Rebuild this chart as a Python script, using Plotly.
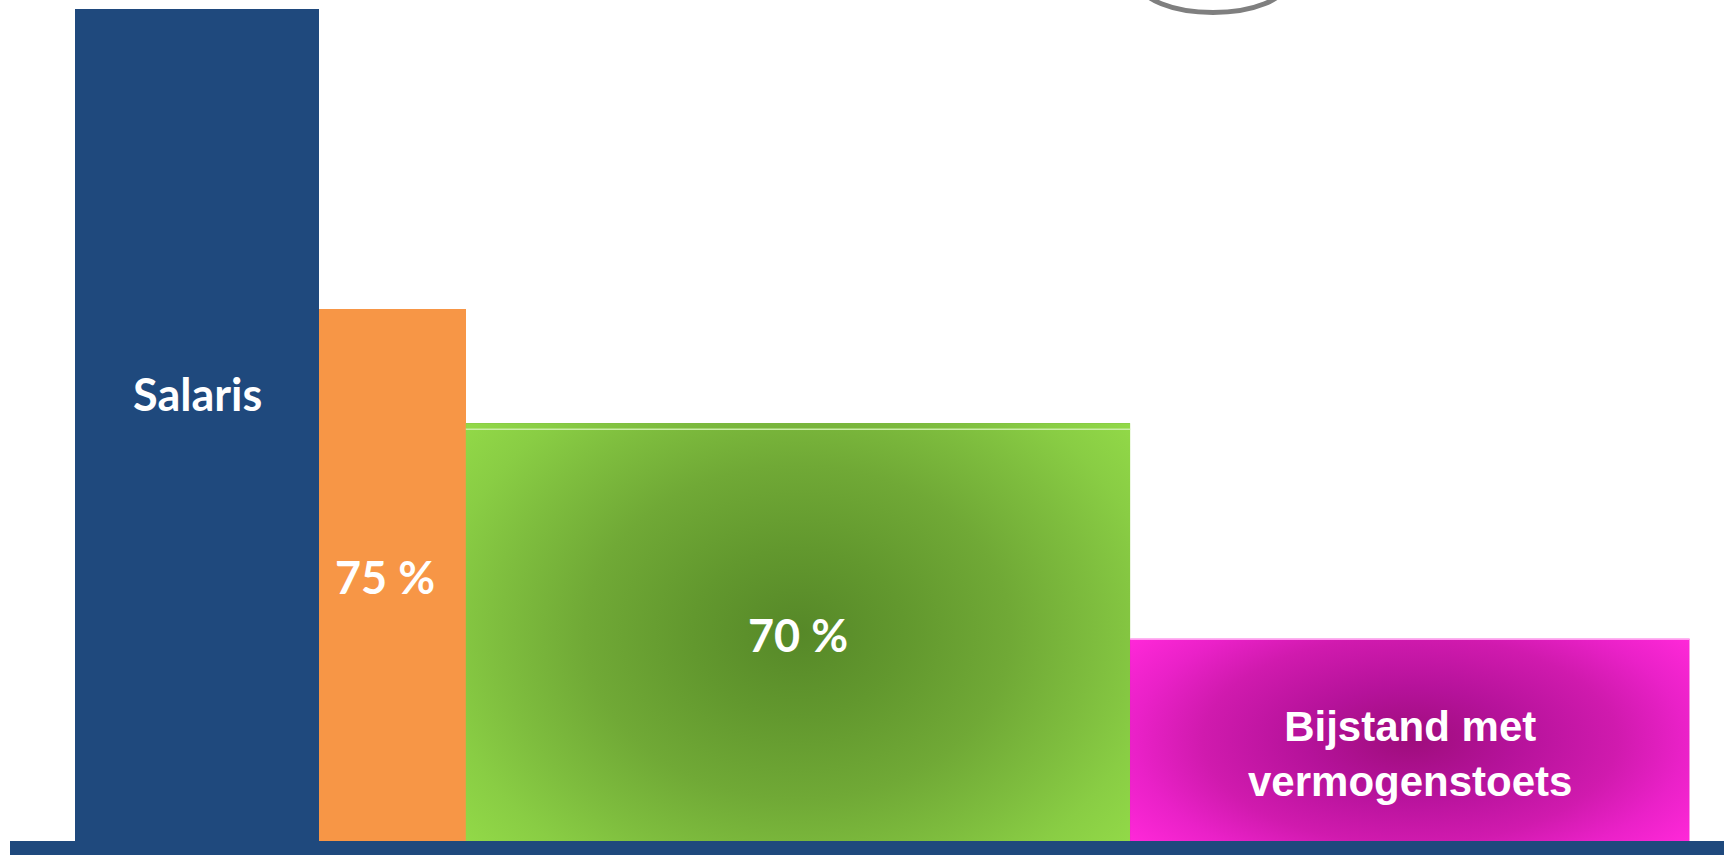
import plotly.graph_objects as go

# ---- data ----
categories = ["Salaris", "75 %", "70 %", "Bijstand met<br>vermogenstoets"]
durations = [5.0, 3.0, 13.6, 11.45]          # relative length of each period
levels = [100, 63.9, 50.2, 24.3]             # income level (salary = 100)
colors = ["#1f497d", "#f79646", "#7ab53b", "#d01aae"]
gradients = [None, None,
             [[0, "#568828"], [0.25, "#62982e"], [0.5, "#70a936"], [0.7, "#7ebd3e"],
              [0.85, "#89cd44"], [1, "#92d948"]],
             [[0, "#9e0d7c"], [0.3, "#b5129a"], [0.6, "#d01aae"], [0.8, "#ea21c8"],
              [1, "#ff28d9"]]]

W, H = 1724, 855
px_per_unit = 48.85
x_left_px = 75
y0_px, y100_px = 841, 9
py = (y0_px - y100_px) / 100.0

starts = []
acc = 0.0
for d in durations:
    starts.append(acc)
    acc += d
centers = [s + d / 2 for s, d in zip(starts, durations)]

fig = go.Figure()
for i in range(len(levels)):
    fig.add_trace(go.Bar(x=[centers[i]], y=[levels[i]], width=[durations[i]],
                         marker=dict(color=colors[i], line=dict(width=0)),
                         hoverinfo="skip", showlegend=False))

# gradient overlays: invisible zero-area spikes widen the bounding box so the
# radial gradient reaches the corners of the bar
grad_ext_px = {2: (92.5, 125.5), 3: (65.0, 71.4)}
for i in range(len(levels)):
    if gradients[i] is None:
        continue
    x0, x1 = starts[i], starts[i] + durations[i]
    L = levels[i]
    ex = grad_ext_px[i][0] / px_per_unit
    ey = grad_ext_px[i][1] / py
    xs = [x0, x0 - ex, x0, x0, x0, x1, x1, x1 + ex, x1, x1, x1, x0, x0]
    ys = [0, 0, 0, -ey, 0, 0, L, L, L, L + ey, L, L, 0]
    fig.add_trace(go.Scatter(x=xs, y=ys, mode="lines", fill="toself",
                             line=dict(width=0, simplify=False),
                             fillgradient=dict(type="radial", colorscale=gradients[i]),
                             hoverinfo="skip", showlegend=False))

# labels
label_y = [53.7, 31.7, 24.8, 10.5]
label_dx = [0, -0.16, 0, 0]
fonts = [dict(family="Lato", size=45, color="white"),
         dict(family="Lato", size=45, color="white"),
         dict(family="Lato", size=45, color="white"),
         dict(family="Liberation Sans, Arial", size=42, color="white")]
for i, c in enumerate(categories):
    fig.add_annotation(x=centers[i] + label_dx[i], y=label_y[i], text="<b>" + c + "</b>",
                       showarrow=False, font=fonts[i], xanchor="center", yanchor="middle",
                       align="center")

xr = [-x_left_px / px_per_unit, (W - x_left_px) / px_per_unit]
yr = [-(H - y0_px) / py, y0_px / py]

shapes = []
# bottom band (axis)
shapes.append(dict(type="rect", xref="paper", yref="y", x0=10 / W, x1=1, y0=yr[0] - 2, y1=0,
                   fillcolor="#1f497d", line=dict(width=0), layer="above"))
# highlight line on green bar
shapes.append(dict(type="line", xref="x", yref="y", x0=starts[2], x1=starts[2] + durations[2],
                   y0=levels[2] - 6 / py, y1=levels[2] - 6 / py,
                   line=dict(color="#c8eea3", width=1.5), layer="above"))
# highlight line on magenta bar
shapes.append(dict(type="line", xref="x", yref="y", x0=starts[3], x1=starts[3] + durations[3],
                   y0=levels[3] - 0.5 / py, y1=levels[3] - 0.5 / py,
                   line=dict(color="#ff9cee", width=1.5), layer="above"))
# decorative grey ellipse at top
shapes.append(dict(type="circle", xref="paper", yref="paper",
                   x0=1140 / W, x1=1286 / W, y0=1 - 12.5 / H, y1=1 + 47 / H,
                   line=dict(color="#7f7f7f", width=5), fillcolor="rgba(0,0,0,0)"))

fig.update_layout(
    width=W, height=H, margin=dict(l=0, r=0, t=0, b=0),
    paper_bgcolor="white", plot_bgcolor="white",
    barmode="overlay", bargap=0,
    xaxis=dict(range=xr, visible=False, fixedrange=True),
    yaxis=dict(range=yr, visible=False, fixedrange=True),
    shapes=shapes, showlegend=False,
)
fig.write_html("out.html")
